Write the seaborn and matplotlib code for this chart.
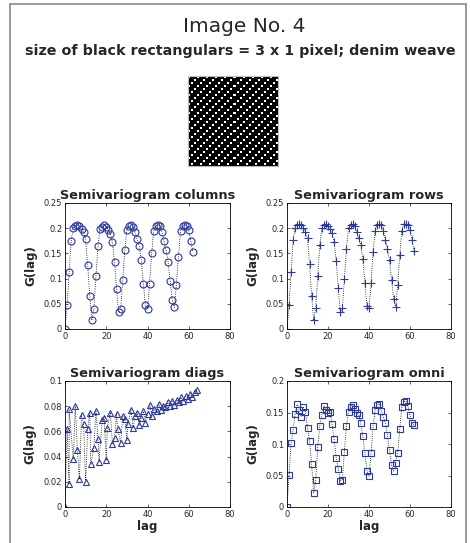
import numpy as np
import pandas as pd
import matplotlib
matplotlib.use("Agg")
import matplotlib.pyplot as plt
from matplotlib.lines import Line2D
import seaborn as sns

# ---- data -------------------------------------------------------------
lags = list(range(63))

gamma_columns = [0.000, 0.047, 0.113, 0.175, 0.200, 0.205, 0.206, 0.204, 0.199, 0.192,
                 0.178, 0.126, 0.066, 0.017, 0.040, 0.105, 0.165, 0.199, 0.203, 0.206,
                 0.203, 0.197, 0.188, 0.172, 0.133, 0.080, 0.033, 0.040, 0.098, 0.157,
                 0.197, 0.205, 0.206, 0.203, 0.192, 0.178, 0.165, 0.136, 0.090, 0.047,
                 0.040, 0.090, 0.150, 0.194, 0.205, 0.206, 0.205, 0.193, 0.175, 0.156,
                 0.133, 0.095, 0.057, 0.043, 0.087, 0.143, 0.195, 0.205, 0.207, 0.205,
                 0.196, 0.175, 0.153]

gamma_rows = [0.000, 0.047, 0.114, 0.176, 0.201, 0.207, 0.208, 0.206, 0.200, 0.193,
              0.180, 0.128, 0.066, 0.017, 0.041, 0.106, 0.167, 0.200, 0.206, 0.208,
              0.205, 0.198, 0.190, 0.173, 0.135, 0.081, 0.033, 0.041, 0.099, 0.159,
              0.200, 0.206, 0.208, 0.205, 0.192, 0.180, 0.167, 0.138, 0.091, 0.046,
              0.041, 0.091, 0.153, 0.195, 0.207, 0.208, 0.207, 0.195, 0.177, 0.159,
              0.136, 0.098, 0.060, 0.043, 0.087, 0.147, 0.195, 0.208, 0.209, 0.207,
              0.197, 0.177, 0.155]

diag_lags = [0, 1, 2, 2, 4, 5, 6, 7, 8, 9, 10, 11, 12, 12.5, 14, 15, 16, 16.5,
             18, 19, 20, 20.5, 22, 23, 24, 25, 25.5, 27, 28, 29, 30, 30.5, 32, 33,
             34, 35, 36, 37, 38, 39, 40, 41.1, 42.2, 43.3, 44.4, 45.5, 46.5, 47.6,
             48.7, 49.8, 50.9, 52, 53, 54.1, 55.2, 56.3, 57.4, 58.5, 59.6, 60.6,
             61.7, 62.8, 63.9]
gamma_diags = [0.000, 0.062, 0.0185, 0.0775, 0.038, 0.080, 0.045, 0.022, 0.073, 0.066,
               0.020, 0.062, 0.075, 0.034, 0.047, 0.076, 0.054, 0.036, 0.069, 0.071,
               0.037, 0.063, 0.075, 0.050, 0.055, 0.074, 0.062, 0.051, 0.072, 0.070,
               0.053, 0.066, 0.077, 0.063, 0.072, 0.075, 0.065, 0.071, 0.076, 0.067,
               0.074, 0.081, 0.072, 0.078, 0.076, 0.082, 0.077, 0.080, 0.079, 0.083,
               0.080, 0.084, 0.081, 0.085, 0.083, 0.087, 0.084, 0.088, 0.086, 0.090,
               0.087, 0.091, 0.093]

gamma_omni = [0.000, 0.051, 0.101, 0.123, 0.148, 0.163, 0.154, 0.143, 0.158, 0.151,
              0.125, 0.105, 0.068, 0.022, 0.043, 0.095, 0.129, 0.146, 0.160, 0.154,
              0.150, 0.151, 0.131, 0.108, 0.078, 0.060, 0.042, 0.043, 0.088, 0.129,
              0.151, 0.159, 0.162, 0.155, 0.150, 0.146, 0.133, 0.112, 0.085, 0.057,
              0.049, 0.085, 0.128, 0.154, 0.162, 0.164, 0.153, 0.143, 0.133, 0.114,
              0.091, 0.066, 0.057, 0.070, 0.086, 0.124, 0.158, 0.167, 0.168, 0.160,
              0.146, 0.134, 0.130]

# ---- style ------------------------------------------------------------
sns.set_style("white")
plt.rcParams["font.family"] = ["DejaVu Sans"]

W, H = 470, 543
fig = plt.figure(figsize=(W / 100, H / 100), dpi=100)

BLUE = "#2b3a9c"


def box(l, t, r, b):
    return [l / W, 1 - b / H, (r - l) / W, (b - t) / H]


# figure frame
for xs, ys in [([10, 10], [4, H]), ([10, 466], [4, 4]), ([466, 466], [4, H])]:
    fig.add_artist(Line2D([x / W for x in xs], [1 - y / H for y in ys],
                          color="#8a8a8a", lw=1.2))

fig.text(244 / W, 1 - 27 / H, "Image No. 4", ha="center", va="center", fontsize=14.5)
fig.text(240 / W, 1 - 51 / H, "size of black rectangulars = 3 x 1 pixel; denim weave",
         ha="center", va="center", fontsize=10.3, fontweight="bold")

# woven texture thumbnail: diagonal chains of small white dots on black
n = 90
yy, xx = np.mgrid[0:n, 0:n]
weave = (((yy % 3) < 2) & (((xx + yy - yy % 3) % 9) < 2)).astype(float)
axi = fig.add_axes(box(188, 76, 278, 166))
axi.imshow(weave, cmap="gray", vmin=0, vmax=1, interpolation="nearest", aspect="auto")
axi.set_xticks([])
axi.set_yticks([])
for s in axi.spines.values():
    s.set_color("#bbbbbb")
    s.set_linewidth(0.8)

panels = [
    ("Semivariogram columns", lags, gamma_columns, "o", box(65, 203, 230, 329), 0.25, 0.05, False),
    ("Semivariogram rows", lags, gamma_rows, "+", box(287, 203, 451, 329), 0.25, 0.05, False),
    ("Semivariogram diags", diag_lags, gamma_diags, "^", box(65, 381, 230, 507), 0.1, 0.02, True),
    ("Semivariogram omni", lags, gamma_omni, "s", box(287, 381, 451, 507), 0.2, 0.05, True),
]

for title, x, y, mk, rect, ymax, ystep, bottom in panels:
    ax = fig.add_axes(rect)
    df = pd.DataFrame({"lag": x, "G(lag)": y})
    sns.lineplot(data=df, x="lag", y="G(lag)", ax=ax, sort=False, estimator=None,
                 color="k", linestyle=":", linewidth=0.6)
    sns.lineplot(data=df, x="lag", y="G(lag)", ax=ax, sort=False, estimator=None,
                 linestyle="none", marker=mk, markersize=5 if mk != "+" else 6,
                 markerfacecolor="none", markeredgecolor=BLUE,
                 markeredgewidth=0.8, color=BLUE)
    ax.set_xlim(0, 80)
    ax.set_ylim(0, ymax)
    ax.set_xticks([0, 20, 40, 60, 80])
    yt = np.round(np.arange(0, ymax + 1e-9, ystep), 3)
    ax.set_yticks(yt)
    ax.set_yticklabels([("%g" % v) for v in yt])
    ax.tick_params(direction="in", length=2.5, width=0.5, labelsize=6, pad=2,
                   top=True, right=True, bottom=True, left=True)
    for s in ax.spines.values():
        s.set_linewidth(0.6)
        s.set_color("k")
    ax.set_title(title, fontsize=9.3, fontweight="bold", pad=3)
    ax.set_ylabel("G(lag)", fontsize=8.5, fontweight="bold", labelpad=5)
    ax.set_xlabel("lag" if bottom else "", fontsize=8.5, fontweight="bold", labelpad=1)

fig.savefig("out.png", dpi=100)
